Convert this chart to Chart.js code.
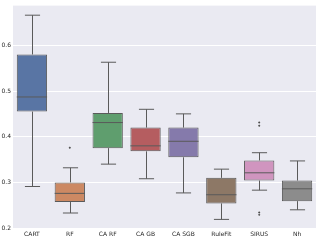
<!DOCTYPE html>
<html>
<head>
<meta charset="utf-8">
<script src="https://cdn.jsdelivr.net/npm/chart.js@4/dist/chart.umd.min.js"></script>
<style>
  body { margin: 0; background: #fff; }
</style>
</head>
<body>
<canvas id="myChart" width="320" height="240"></canvas>
<script>
// box plot values
var categories = ['CART', 'RF', 'CA RF', 'CA GB', 'CA SGB', 'RuleFit', 'SIRUS', 'Nh'];
var whiskerLow = [0.291, 0.233, 0.340, 0.308, 0.277, 0.219, 0.283, 0.240];
var q1 = [0.455, 0.257, 0.375, 0.368, 0.355, 0.254, 0.304, 0.259];
var median = [0.487, 0.276, 0.431, 0.380, 0.390, 0.273, 0.321, 0.286];
var q3 = [0.580, 0.300, 0.452, 0.420, 0.420, 0.310, 0.348, 0.304];
var whiskerHigh = [0.666, 0.332, 0.563, 0.460, 0.450, 0.329, 0.365, 0.347];
var outlierCat = ['RF', 'SIRUS', 'SIRUS', 'SIRUS', 'SIRUS'];
var outlierVal = [0.376, 0.431, 0.424, 0.234, 0.229];
var yTicks = [0.2, 0.3, 0.4, 0.5, 0.6];

var boxColors = ['#5975a4', '#cc8963', '#5f9e6e', '#b55d60', '#857aab', '#8d7866', '#d095bf', '#8c8c8c'];
var lineColor = '#5a5a5a';

// grey plot background
var bgPlugin = {
    id: 'bg',
    beforeDraw: function (chart) {
        var a = chart.chartArea, ctx = chart.ctx;
        ctx.save();
        ctx.fillStyle = '#eaeaf2';
        ctx.fillRect(a.left, a.top, a.right - a.left, a.bottom - a.top);
        ctx.restore();
    }
};

// whiskers, caps and medians
var boxPlugin = {
    id: 'boxes',
    afterDatasetsDraw: function (chart) {
        var ctx = chart.ctx, y = chart.scales.y;
        var bars = chart.getDatasetMeta(0).data;
        ctx.save();
        ctx.strokeStyle = lineColor;
        ctx.lineWidth = 1;
        bars.forEach(function (bar, i) {
            var x = Math.round(bar.x) + 0.5, w = bar.width;
            var yLo = y.getPixelForValue(whiskerLow[i]);
            var yHi = y.getPixelForValue(whiskerHigh[i]);
            var yQ1 = y.getPixelForValue(q1[i]);
            var yQ3 = y.getPixelForValue(q3[i]);
            var yMed = y.getPixelForValue(median[i]);
            ctx.beginPath();
            ctx.moveTo(x, yQ1); ctx.lineTo(x, yLo);
            ctx.moveTo(x, yQ3); ctx.lineTo(x, yHi);
            ctx.moveTo(x - w / 4, yLo); ctx.lineTo(x + w / 4, yLo);
            ctx.moveTo(x - w / 4, yHi); ctx.lineTo(x + w / 4, yHi);
            ctx.moveTo(bar.x - w / 2, yMed); ctx.lineTo(bar.x + w / 2, yMed);
            ctx.stroke();
        });
        ctx.restore();
    }
};

var ctx = document.getElementById('myChart').getContext('2d');
var myChart = new Chart(ctx, {
    type: 'bar',
    data: {
        labels: categories,
        datasets: [{
            label: 'box',
            data: categories.map(function (c, i) { return [q1[i], q3[i]]; }),
            backgroundColor: boxColors,
            borderColor: lineColor,
            borderWidth: 1,
            borderSkipped: false,
            categoryPercentage: 1,
            barPercentage: 0.8
        }, {
            type: 'scatter',
            label: 'outliers',
            data: outlierCat.map(function (c, i) { return { x: c, y: outlierVal[i] }; }),
            pointStyle: 'rectRot',
            radius: 1.2,
            backgroundColor: '#4d4d4d',
            borderColor: '#4d4d4d',
            borderWidth: 0
        }]
    },
    options: {
        responsive: false,
        animation: false,
        layout: { padding: { top: 3, right: 3, left: 0, bottom: 0 } },
        plugins: {
            legend: { display: false },
            tooltip: { enabled: false }
        },
        scales: {
            x: {
                type: 'category',
                offset: true,
                grid: { display: false, drawTicks: false, tickLength: 0 },
                border: { display: false },
                ticks: {
                    color: '#262626',
                    padding: 2,
                    maxRotation: 0,
                    font: { family: 'DejaVu Sans', size: 6 }
                },
                afterFit: function (scale) { scale.height = 11; }
            },
            y: {
                min: 0.198,
                max: 0.687,
                grid: { color: '#ffffff', lineWidth: 1, drawTicks: false, tickLength: 0 },
                border: { display: false },
                afterBuildTicks: function (scale) {
                    scale.ticks = yTicks.map(function (v) { return { value: v }; });
                },
                ticks: {
                    color: '#262626',
                    padding: 2,
                    font: { family: 'DejaVu Sans', size: 6 },
                    callback: function (v) { return v.toFixed(1); }
                },
                afterFit: function (scale) { scale.width = 13; }
            }
        }
    },
    plugins: [bgPlugin, boxPlugin]
});
</script>
</body>
</html>
